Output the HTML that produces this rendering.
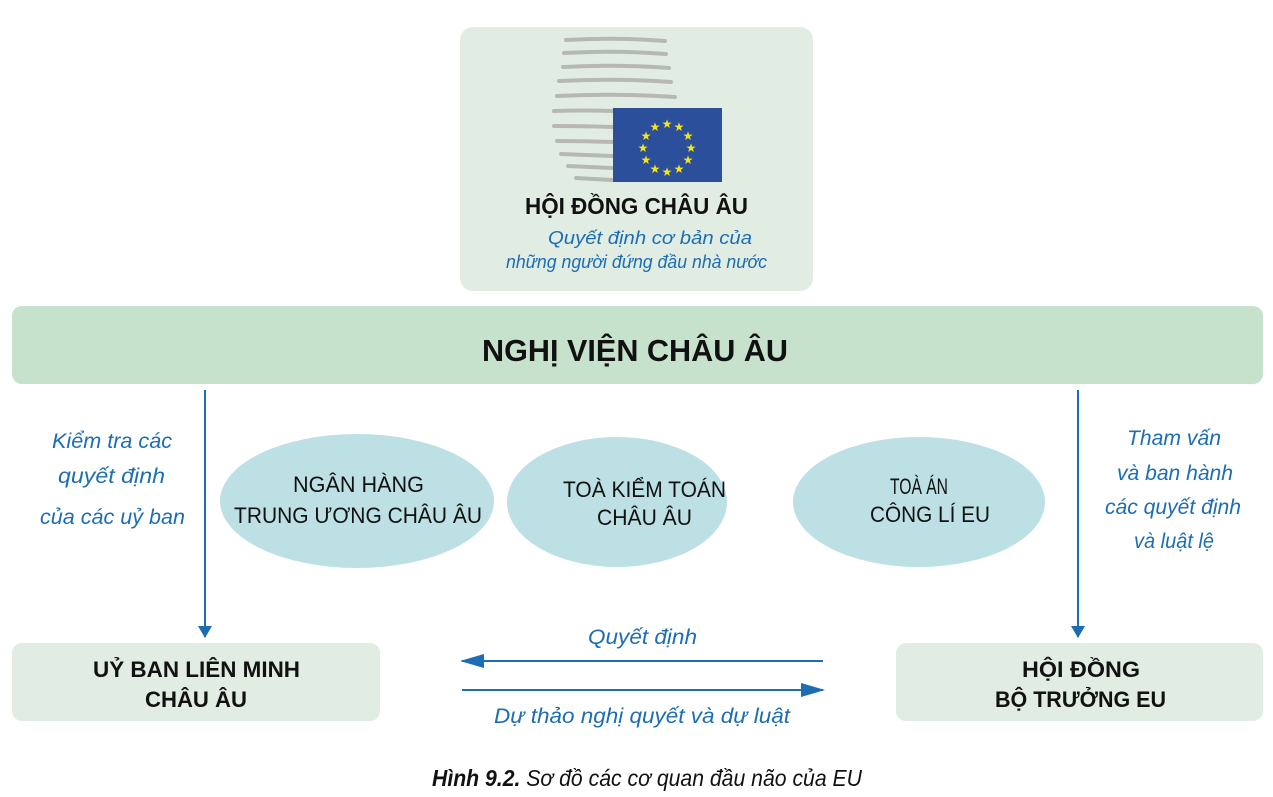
<!DOCTYPE html>
<html><head><meta charset="utf-8"><style>
html,body{margin:0;padding:0;background:#fff;}
svg{display:block;}
text{font-family:"Liberation Sans Narrow","Liberation Sans",sans-serif;}
.b{font-weight:bold;fill:#111;}
.n{fill:#111;}
.i{font-style:italic;fill:#1c6db3;}
</style></head><body>
<svg width="1273" height="797" viewBox="0 0 1273 797" xmlns="http://www.w3.org/2000/svg">
<defs>
<marker id="ah2" markerWidth="24" markerHeight="14" refX="22" refY="7" orient="auto" markerUnits="userSpaceOnUse">
<path d="M0,0 L24,7 L0,14 z" fill="#1c6db3"/></marker>
<marker id="ah3" markerWidth="12" markerHeight="22" refX="11" refY="11" orient="auto" markerUnits="userSpaceOnUse">
<path d="M0,4 L12,11 L0,18 z" fill="#1c6db3"/></marker>
</defs>
<rect x="460" y="27" width="353" height="264" rx="13" fill="#e1ede2"/>
<g stroke="#b8b8b3" stroke-width="4" stroke-linecap="round" fill="none">
<path d="M566,40 Q615,37 665,41"/>
<path d="M564,53 Q615,50 666,54"/>
<path d="M563,67 Q615,64 669,68"/>
<path d="M559,81 Q615,78 671,82"/>
<path d="M557,96 Q615,93 675,97"/>
<path d="M554,111 Q585,110 612,111"/>
<path d="M554,126 Q585,126 612,127"/>
<path d="M557,141 Q585,141 612,142"/>
<path d="M561,154 Q585,155 612,156"/>
<path d="M568,166 Q590,167 612,168"/>
<path d="M576,178 Q595,179 612,180"/>
</g>
<rect x="613" y="108" width="109" height="74" fill="#2b4f9a"/>
<g fill="#f5e516" font-size="12" text-anchor="middle" font-family="DejaVu Sans">
<text x="667" y="128">★</text><text x="679" y="131">★</text><text x="688" y="140">★</text>
<text x="691" y="152">★</text><text x="688" y="164">★</text><text x="679" y="173">★</text>
<text x="667" y="176">★</text><text x="655" y="173">★</text><text x="646" y="164">★</text>
<text x="643" y="152">★</text><text x="646" y="140">★</text><text x="655" y="131">★</text>
</g>
<text class="b" x="525" y="214" font-size="23" textLength="223" lengthAdjust="spacingAndGlyphs">HỘI ĐỒNG CHÂU ÂU</text>
<text class="i" x="548" y="244" font-size="18" textLength="204" lengthAdjust="spacingAndGlyphs">Quyết định cơ bản của</text>
<text class="i" x="506" y="268" font-size="18" textLength="261" lengthAdjust="spacingAndGlyphs">những người đứng đầu nhà nước</text>
<rect x="12" y="306" width="1251" height="78" rx="10" fill="#c6e2cc"/>
<text class="b" x="482" y="361" font-size="31" textLength="306" lengthAdjust="spacingAndGlyphs">NGHỊ VIỆN CHÂU ÂU</text>
<line x1="205" y1="390" x2="205" y2="637" stroke="#1c6db3" stroke-width="2" marker-end="url(#ah3)"/>
<line x1="1078" y1="390" x2="1078" y2="637" stroke="#1c6db3" stroke-width="2" marker-end="url(#ah3)"/>
<text class="i" x="52" y="448" font-size="21" textLength="120" lengthAdjust="spacingAndGlyphs">Kiểm tra các</text>
<text class="i" x="58" y="483" font-size="21" textLength="107" lengthAdjust="spacingAndGlyphs">quyết định</text>
<text class="i" x="40" y="524" font-size="21" textLength="145" lengthAdjust="spacingAndGlyphs">của các uỷ ban</text>
<text class="i" x="1127" y="445" font-size="21" textLength="94" lengthAdjust="spacingAndGlyphs">Tham vấn</text>
<text class="i" x="1117" y="480" font-size="21" textLength="116" lengthAdjust="spacingAndGlyphs">và ban hành</text>
<text class="i" x="1105" y="514" font-size="21" textLength="136" lengthAdjust="spacingAndGlyphs">các quyết định</text>
<text class="i" x="1134" y="548" font-size="21" textLength="80" lengthAdjust="spacingAndGlyphs">và luật lệ</text>
<ellipse cx="357" cy="501" rx="137" ry="67" fill="#bde0e5"/>
<ellipse cx="617" cy="502" rx="110" ry="65" fill="#bde0e5"/>
<ellipse cx="919" cy="502" rx="126" ry="65" fill="#bde0e5"/>
<text class="n" x="293" y="492" font-size="22" textLength="131" lengthAdjust="spacingAndGlyphs">NGÂN HÀNG</text>
<text class="n" x="234" y="523" font-size="22" textLength="248" lengthAdjust="spacingAndGlyphs">TRUNG ƯƠNG CHÂU ÂU</text>
<text class="n" x="563" y="497" font-size="22" textLength="163" lengthAdjust="spacingAndGlyphs">TOÀ KIỂM TOÁN</text>
<text class="n" x="597" y="525" font-size="22" textLength="95" lengthAdjust="spacingAndGlyphs">CHÂU ÂU</text>
<text class="n" x="890" y="494" font-size="22" textLength="58" lengthAdjust="spacingAndGlyphs">TOÀ ÁN</text>
<text class="n" x="870" y="522" font-size="22" textLength="120" lengthAdjust="spacingAndGlyphs">CÔNG LÍ EU</text>
<rect x="12" y="643" width="368" height="78" rx="10" fill="#e1ede2"/>
<rect x="896" y="643" width="367" height="78" rx="10" fill="#e1ede2"/>
<text class="b" x="93" y="677" font-size="22" textLength="207" lengthAdjust="spacingAndGlyphs">UỶ BAN LIÊN MINH</text>
<text class="b" x="145" y="707" font-size="22" textLength="102" lengthAdjust="spacingAndGlyphs">CHÂU ÂU</text>
<text class="b" x="1022" y="677" font-size="22" textLength="118" lengthAdjust="spacingAndGlyphs">HỘI ĐỒNG</text>
<text class="b" x="995" y="707" font-size="22" textLength="171" lengthAdjust="spacingAndGlyphs">BỘ TRƯỞNG EU</text>
<line x1="823" y1="661" x2="462" y2="661" stroke="#1c6db3" stroke-width="2" marker-end="url(#ah2)"/>
<line x1="462" y1="690" x2="823" y2="690" stroke="#1c6db3" stroke-width="2" marker-end="url(#ah2)"/>
<text class="i" x="588" y="644" font-size="21" textLength="109" lengthAdjust="spacingAndGlyphs">Quyết định</text>
<text class="i" x="494" y="723" font-size="21" textLength="296" lengthAdjust="spacingAndGlyphs">Dự thảo nghị quyết và dự luật</text>
<text x="432" y="786" font-size="23" fill="#111" font-style="italic" textLength="430" lengthAdjust="spacingAndGlyphs"><tspan font-weight="bold">Hình 9.2.</tspan> Sơ đồ các cơ quan đầu não của EU</text>
</svg>
</body></html>
